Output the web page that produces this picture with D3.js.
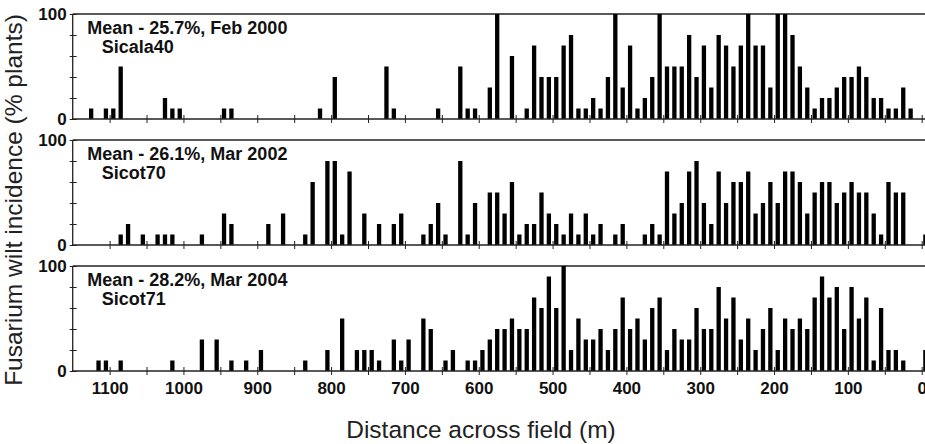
<!DOCTYPE html>
<html lang="en">

<head>
	<meta charset="UTF-8" />
	<title>Fusarium wilt incidence</title>
	<script src="https://cdn.jsdelivr.net/npm/d3@7"></script>
	<style>
		body { margin: 0; background: #fff; }
		text { font-family: Arial, "Liberation Sans", sans-serif; }
	</style>
</head>

<body>
	<svg id="vis" width="925" height="444"></svg>
</body>

</html>
<script>
	// bars: [distance (bin centre, m), incidence (%)]
	let sicala2000 = [
		[1125, 10], [1105, 10], [1095, 10], [1085, 50], [1025, 20], [1015, 10], [1005, 10],
		[945, 10], [935, 10], [815, 10], [795, 40], [725, 50], [715, 10], [655, 10],
		[625, 50], [615, 10], [605, 10], [585, 30], [575, 100], [555, 60], [535, 10],
		[525, 70], [515, 40], [505, 40], [495, 40], [485, 70], [475, 80], [465, 10],
		[455, 10], [445, 20], [435, 10], [425, 40], [415, 100], [405, 30], [395, 70],
		[385, 10], [375, 20], [365, 40], [355, 100], [345, 50], [335, 50], [325, 50],
		[315, 80], [305, 40], [295, 70], [285, 30], [275, 80], [265, 70], [255, 50],
		[245, 70], [235, 100], [225, 70], [215, 70], [205, 30], [195, 100], [185, 100],
		[175, 80], [165, 50], [155, 30], [145, 10], [135, 20], [125, 20], [115, 30],
		[105, 40], [95, 40], [85, 50], [75, 40], [65, 20], [55, 20], [45, 10], [35, 10],
		[25, 30], [15, 10]
	];

	let sicot2002 = [
		[1085, 10], [1075, 20], [1055, 10], [1035, 10], [1025, 10], [1015, 10], [975, 10],
		[945, 30], [935, 20], [885, 20], [865, 30], [835, 10], [825, 60], [805, 80],
		[795, 80], [785, 10], [775, 70], [755, 30], [735, 20], [715, 20], [705, 30],
		[675, 10], [665, 20], [655, 40], [645, 10], [625, 80], [615, 10], [605, 40],
		[585, 50], [575, 50], [565, 30], [555, 60], [545, 10], [535, 20], [525, 20],
		[515, 50], [505, 30], [495, 20], [485, 10], [475, 30], [465, 10], [455, 30],
		[445, 10], [435, 20], [415, 10], [405, 20], [375, 10], [365, 20], [355, 10],
		[345, 70], [335, 30], [325, 40], [315, 70], [305, 80], [295, 40], [285, 20],
		[275, 70], [265, 40], [255, 60], [245, 60], [235, 70], [225, 30], [215, 40],
		[205, 60], [195, 40], [185, 70], [175, 70], [165, 60], [155, 30], [145, 50],
		[135, 60], [125, 60], [115, 40], [105, 50], [95, 60], [85, 50], [75, 50],
		[65, 30], [55, 10], [45, 60], [35, 50], [25, 50], [-5, 10]
	];

	let sicot2004 = [
		[1115, 10], [1105, 10], [1085, 10], [1015, 10], [975, 30], [955, 30], [935, 10],
		[915, 10], [895, 20], [835, 10], [805, 20], [785, 50], [765, 20], [755, 20],
		[745, 20], [735, 10], [715, 30], [705, 10], [695, 30], [675, 50], [665, 40],
		[645, 10], [635, 20], [615, 10], [605, 10], [595, 20], [585, 30], [575, 40],
		[565, 40], [555, 50], [545, 40], [535, 40], [525, 70], [515, 60], [505, 90],
		[495, 60], [485, 100], [475, 20], [465, 50], [455, 30], [445, 30], [435, 40],
		[425, 20], [415, 40], [405, 70], [395, 40], [385, 50], [375, 30], [365, 60],
		[355, 70], [345, 20], [335, 40], [325, 30], [315, 30], [305, 60], [295, 40],
		[285, 40], [275, 80], [265, 50], [255, 70], [245, 30], [235, 50], [225, 20],
		[215, 40], [205, 60], [195, 20], [185, 50], [175, 40], [165, 50], [155, 40],
		[145, 70], [135, 90], [125, 70], [115, 80], [105, 40], [95, 80], [85, 50],
		[75, 70], [65, 10], [55, 60], [45, 20], [35, 20], [25, 10], [-5, 20]
	];

	let panelData = [sicala2000, sicot2002, sicot2004];
	let panelTitles = ["Mean - 25.7%, Feb 2000", "Mean - 26.1%, Mar 2002", "Mean - 28.2%, Mar 2004"];
	let panelCultivars = ["Sicala40", "Sicot70", "Sicot71"];

	let xTicks = [1100, 1050, 1000, 950, 900, 850, 800, 750, 700, 650, 600, 550, 500,
		450, 400, 350, 300, 250, 200, 150, 100, 50, 0];
	let yTicks = [0, 20, 40, 60, 80, 100];

	let svg = d3.select("#vis");

	let left = 72.7;
	let panelH = 105;

	// Echelle X (distance decroissante vers la droite)
	let scaleX = d3.scaleLinear();
	scaleX.domain([1150, 0]);
	scaleX.range([left, 921.7]);

	let barW = 4.3;

	for (let i = 0; i < panelData.length; i++) {
		let top = 14 + i * 126;

		let scaleY = d3.scaleLinear();
		scaleY.domain([0, 100]);
		scaleY.range([panelH, 0]);

		let g = svg.append("g");
		g.attr("transform", "translate(0," + top + ")");

		// top frame line
		g.append("line")
			.attr("x1", left).attr("x2", 930)
			.attr("y1", 0).attr("y2", 0)
			.attr("stroke", "#222").attr("stroke-width", 1.3);

		// bars
		g.append("g").selectAll("rect")
			.data(panelData[i])
			.join("rect")
			.attr("x", d => scaleX(d[0]) - barW / 2)
			.attr("width", barW)
			.attr("y", d => scaleY(d[1]))
			.attr("height", d => panelH - scaleY(d[1]))
			.attr("fill", "#000");

		// axe X
		let xAxis = d3.axisBottom(scaleX)
			.tickValues(xTicks)
			.tickSize(4)
			.tickFormat(d => (i == 2 && d % 100 == 0) ? d : "");
		let gx = g.append("g");
		gx.attr("transform", "translate(0," + panelH + ")");
		gx.call(xAxis);
		gx.select(".domain").remove();
		gx.append("line")
			.attr("x1", left).attr("x2", 930)
			.attr("stroke", "#222").attr("stroke-width", 1.3);
		gx.selectAll(".tick line").attr("y1", -4).attr("y2", 4).attr("stroke", "#222");
		gx.selectAll(".tick text")
			.attr("y", 0)
			.attr("dy", 0)
			.attr("transform", "translate(0,23)")
			.attr("font-family", "Arial, 'Liberation Sans', sans-serif")
			.attr("font-size", 17)
			.attr("font-weight", "bold")
			.attr("fill", "#111");

		// axe Y
		let yAxis = d3.axisLeft(scaleY)
			.tickValues(yTicks)
			.tickSize(3)
			.tickFormat(d => (d == 0 || d == 100) ? d : "");
		let gy = g.append("g");
		gy.attr("transform", "translate(" + left + ",0)");
		gy.call(yAxis);
		gy.select(".domain").attr("stroke", "#222").attr("stroke-width", 1.3).attr("d", "M0,0V" + panelH);
		gy.selectAll(".tick line").attr("x1", -3).attr("x2", 4).attr("stroke", "#222");
		gy.selectAll(".tick text")
			.attr("x", -6)
			.attr("font-family", "Arial, 'Liberation Sans', sans-serif")
			.attr("font-size", 17)
			.attr("font-weight", "bold")
			.attr("fill", "#111");

		// annotations
		g.append("text")
			.attr("x", 87.3).attr("y", 20)
			.attr("font-size", 18).attr("font-weight", "bold").attr("fill", "#111")
			.text(panelTitles[i]);
		g.append("text")
			.attr("x", 101.7).attr("y", 38.5)
			.attr("font-size", 18).attr("font-weight", "bold").attr("fill", "#111")
			.text(panelCultivars[i]);
	}

	// titres des axes
	svg.append("text")
		.attr("x", 481).attr("y", 437.7)
		.attr("text-anchor", "middle")
		.attr("font-size", 24.5).attr("fill", "#222")
		.text("Distance across field (m)");

	svg.append("text")
		.attr("transform", "translate(22,200) rotate(-90)")
		.attr("text-anchor", "middle")
		.attr("font-size", 24.5).attr("fill", "#222")
		.text("Fusarium wilt incidence (% plants)");
</script>
